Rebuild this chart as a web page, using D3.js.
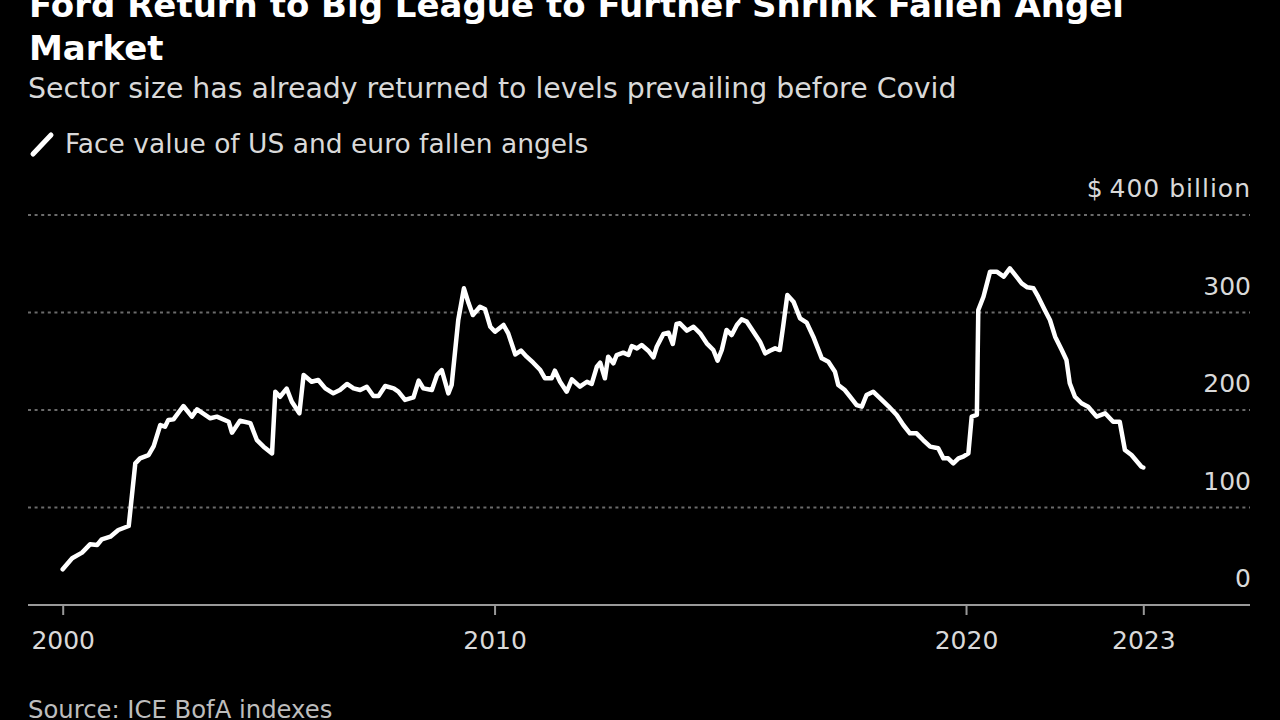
<!DOCTYPE html>
<html>
<head>
<meta charset="utf-8">
<script src="https://cdn.jsdelivr.net/npm/d3@7"></script>
<style>
  html, body { margin: 0; padding: 0; background: #000; }
  svg { display: block; }
  text { font-family: "DejaVu Sans", sans-serif; }
</style>
</head>
<body>
<svg id="chart" width="1280" height="720"></svg>
<script>
// ---- data (decimal years, face value in $ billion) ----
const years = [
  2000.84, 2001.04, 2001.25, 2001.42, 2001.57, 2001.67, 2001.85, 2002.02, 2002.24, 2002.38,
  2002.48, 2002.66, 2002.77, 2002.91, 2003.01, 2003.08, 2003.19, 2003.40, 2003.58, 2003.69,
  2003.97, 2004.11, 2004.36, 2004.43, 2004.60, 2004.82, 2004.96, 2005.10, 2005.28, 2005.35,
  2005.45, 2005.59, 2005.70, 2005.86, 2005.95, 2006.12, 2006.26, 2006.41, 2006.58, 2006.72,
  2006.87, 2007.01, 2007.15, 2007.29, 2007.43, 2007.54, 2007.68, 2007.86, 2007.96, 2008.10,
  2008.28, 2008.39, 2008.49, 2008.67, 2008.78, 2008.88, 2009.02, 2009.09, 2009.23, 2009.35,
  2009.45, 2009.54, 2009.69, 2009.80, 2009.91, 2010.01, 2010.19, 2010.29, 2010.44, 2010.56,
  2010.68, 2010.82, 2010.97, 2011.07, 2011.21, 2011.28, 2011.39, 2011.53, 2011.64, 2011.81,
  2011.96, 2012.06, 2012.17, 2012.24, 2012.34, 2012.41, 2012.52, 2012.59, 2012.73, 2012.84,
  2012.91, 2013.02, 2013.12, 2013.26, 2013.37, 2013.44, 2013.58, 2013.69, 2013.78, 2013.86,
  2013.93, 2014.08, 2014.22, 2014.36, 2014.50, 2014.64, 2014.73, 2014.82, 2014.92, 2015.03,
  2015.14, 2015.24, 2015.35, 2015.49, 2015.63, 2015.74, 2015.84, 2015.95, 2016.05, 2016.12,
  2016.21, 2016.34, 2016.48, 2016.62, 2016.76, 2016.94, 2017.08, 2017.22, 2017.29, 2017.43,
  2017.54, 2017.68, 2017.79, 2017.89, 2018.03, 2018.18, 2018.35, 2018.53, 2018.67, 2018.81,
  2018.95, 2019.09, 2019.24, 2019.41, 2019.52, 2019.62, 2019.73, 2019.84, 2019.94, 2020.05,
  2020.12, 2020.23, 2020.26, 2020.37, 2020.51, 2020.65, 2020.80, 2020.93, 2021.04, 2021.18,
  2021.30, 2021.43, 2021.53, 2021.67, 2021.78, 2021.89, 2022.03, 2022.13, 2022.20, 2022.31,
  2022.45, 2022.59, 2022.77, 2022.95, 2023.12, 2023.26, 2023.37, 2023.51, 2023.72, 2023.76
];
const values = [
  36.6, 47.9, 53.7, 62.2, 61.5, 67.4, 70.1, 76.9, 81.0, 145.3,
  150.4, 153.8, 163.0, 184.6, 182.9, 189.7, 190.4, 204.1, 193.2, 200.7,
  191.5, 193.2, 188.0, 176.7, 189.0, 186.5, 169.0, 162.4, 155.5, 218.8,
  213.6, 222.0, 208.5, 196.6, 235.9, 229.0, 230.8, 222.2, 217.1, 220.5,
  226.7, 222.2, 220.5, 223.9, 214.4, 214.4, 224.6, 222.2, 218.8, 210.3,
  213.0, 230.1, 222.2, 220.5, 235.9, 241.0, 217.1, 225.6, 292.3, 324.8,
  309.4, 297.4, 305.9, 303.3, 285.4, 280.3, 287.2, 278.6, 257.0, 261.0,
  254.7, 248.5, 241.0, 232.5, 232.5, 240.3, 229.0, 218.8, 231.5, 223.9,
  229.0, 226.7, 244.4, 248.5, 232.5, 254.7, 247.9, 256.4, 258.8, 256.4,
  265.6, 263.2, 266.7, 260.8, 254.0, 264.9, 277.9, 279.3, 267.7, 288.2,
  288.9, 281.4, 285.4, 278.6, 268.4, 261.5, 250.6, 261.5, 282.1, 276.9,
  287.2, 293.0, 290.6, 280.3, 270.1, 258.1, 260.8, 263.2, 261.5, 285.4,
  317.9, 311.1, 294.0, 289.6, 275.2, 253.0, 249.6, 239.3, 225.6, 220.5,
  213.6, 205.1, 203.4, 215.4, 218.8, 212.0, 204.1, 194.9, 184.6, 176.1,
  176.1, 169.2, 162.4, 160.7, 150.4, 150.4, 145.3, 150.4, 152.1, 155.6,
  193.2, 194.9, 302.6, 316.2, 341.9, 341.9, 336.8, 345.3, 338.5, 329.9,
  325.8, 324.8, 316.2, 302.6, 292.3, 275.2, 261.5, 251.3, 227.4, 213.6,
  206.9, 203.4, 193.2, 196.6, 188.0, 188.0, 159.0, 153.8, 141.8, 141.0
];
const yTicks = [0, 100, 200, 300, 400];
const yTopLabel = "$\u2009400 billion";
const xTickYears = [years[0], 2010, 2020, years[years.length - 1]];

const titleLines = ["Ford Return to Big League to Further Shrink Fallen Angel", "Market"];
const subtitle = "Sector size has already returned to levels prevailing before Covid";
const legendLabel = "Face value of US and euro fallen angels";
const source = "Source: ICE BofA indexes";

// ---- drawing ----
const svg = d3.select("#chart");
svg.append("rect").attr("width", 1280).attr("height", 720).attr("fill", "#000");

const plotLeft = 28, plotRight = 1250;
const x = d3.scaleLinear().domain(d3.extent(years)).range([62.7, 1143.3]);
const y = d3.scaleLinear().domain([0, 400]).range([605, 215]);

// titles
svg.selectAll("text.title").data(titleLines).enter().append("text")
  .attr("class", "title")
  .attr("x", 29).attr("y", (d, i) => 17 + i * 43)
  .attr("fill", "#fff").attr("font-weight", "bold").attr("font-size", 34)
  .text(d => d);

svg.append("text").attr("x", 28).attr("y", 98)
  .attr("fill", "#d9d9d9").attr("font-size", 28.4).text(subtitle);

// legend
svg.append("line").attr("x1", 33).attr("y1", 154).attr("x2", 51).attr("y2", 135)
  .attr("stroke", "#fff").attr("stroke-width", 5).attr("stroke-linecap", "round");
svg.append("text").attr("x", 65).attr("y", 153)
  .attr("fill", "#d9d9d9").attr("font-size", 26.5).text(legendLabel);

// grid
const grid = svg.append("g");
grid.selectAll("line").data(yTicks.filter(d => d > 0)).enter().append("line")
  .attr("x1", plotLeft).attr("x2", plotRight)
  .attr("y1", d => y(d)).attr("y2", d => y(d))
  .attr("stroke", "#6b6b6b").attr("stroke-width", 2).attr("stroke-dasharray", "3,3.6");

// y labels
svg.selectAll("text.ylab").data(yTicks).enter().append("text")
  .attr("class", "ylab")
  .attr("x", 1251).attr("y", d => y(d) - 18)
  .attr("text-anchor", "end").attr("fill", "#d9d9d9").attr("font-size", 25)
  .attr("letter-spacing", d => d === 400 ? 1 : 0)
  .text(d => d === 400 ? yTopLabel : d);

// x axis
const xAxis = d3.axisBottom(x).tickValues(xTickYears)
  .tickFormat(d => Math.floor(d)).tickSize(10).tickPadding(16);
const gx = svg.append("g").attr("transform", "translate(0,605)").call(xAxis);
gx.select(".domain").remove();
gx.selectAll(".tick line").attr("stroke", "#999").attr("stroke-width", 2);
gx.selectAll(".tick text").attr("fill", "#d9d9d9").attr("font-size", 25)
  .attr("font-family", "DejaVu Sans, sans-serif");
svg.append("line").attr("x1", plotLeft).attr("x2", plotRight)
  .attr("y1", 605).attr("y2", 605).attr("stroke", "#999").attr("stroke-width", 2);

// line
const line = d3.line().x((d, i) => x(years[i])).y(d => y(d));
svg.append("path").datum(values).attr("d", line)
  .attr("fill", "none").attr("stroke", "#fff").attr("stroke-width", 4.5)
  .attr("stroke-linejoin", "round").attr("stroke-linecap", "round");

// source
svg.append("text").attr("x", 28).attr("y", 718)
  .attr("fill", "#bdbdbd").attr("font-size", 24.3).text(source);
</script>
</body>
</html>
